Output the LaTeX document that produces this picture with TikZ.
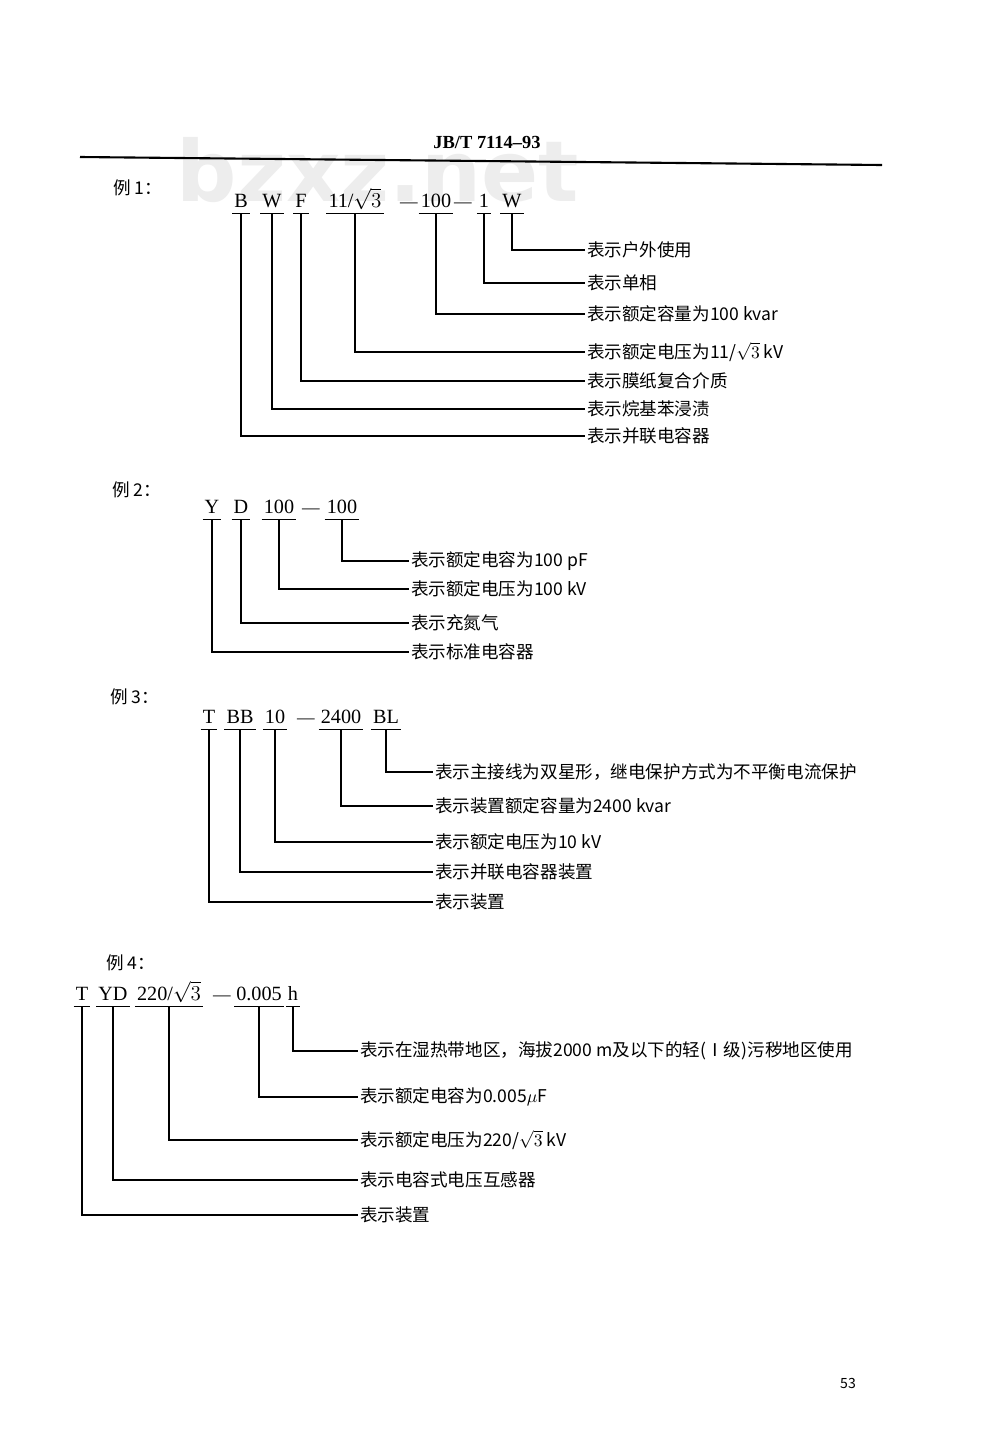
\documentclass[tikz,border=0pt]{standalone}
\usepackage{fontspec}
\setmainfont{Liberation Serif}
\newfontfamily\cjk{Noto Sans CJK SC}
\newfontfamily\wmfont{DejaVu Sans}
\tikzset{
  part/.style={anchor=base,inner xsep=1pt,inner ysep=3.4pt,text depth=0pt,font=\fontsize{11.5}{14}\selectfont},
  gap/.style={anchor=base,inner sep=0pt,font=\fontsize{10}{14}\selectfont},
  lbl/.style={anchor=west,inner sep=1pt,font=\cjk\fontsize{10}{12}\selectfont},
  tag/.style={anchor=west,inner sep=0pt,font=\cjk\fontsize{10}{12}\selectfont},
  lead/.style={line width=0.6pt}
}
\begin{document}
\begin{tikzpicture}[x=0.02cm,y=-0.02cm]
  \useasboundingbox (0,0) rectangle (1000,1434);
  \fill[white] (0,0) rectangle (1000,1434);
  \node[font=\wmfont\fontsize{48}{48}\bfseries,text=black!7] (mark) at (378,170) {bzxz.net};
  \node[font=\bfseries\fontsize{10.5}{12}\selectfont] (head) at (487,142) {JB/T 7114--93};
  \draw[line width=1.2pt] (80,157) -- (882,165);

  \node[tag] (ex1) at (113,188) {例 1：};
  \node[part] (e1b) at (241,207) {B};
  \node[part] (e1w) at (272,207) {W};
  \node[part] (e1f) at (301,207) {F};
  \node[part] (e1u) at (355,207) {11/$\sqrt{3}$};
  \node[gap] (e1d) at (409,207) {---};
  \node[part] (e1c) at (436,207) {100};
  \node[gap] (e1e) at (463,207) {---};
  \node[part] (e1p) at (484,207) {1};
  \node[part] (e1o) at (512,207) {W};
  \node[lbl] (t1o) at (585,250) {表示户外使用};
  \node[lbl] (t1p) at (585,283) {表示单相};
  \node[lbl] (t1c) at (585,314) {表示额定容量为100 kvar};
  \node[lbl] (t1u) at (585,352) {表示额定电压为11/$\sqrt{3}$ kV};
  \node[lbl] (t1f) at (585,381) {表示膜纸复合介质};
  \node[lbl] (t1w) at (585,409) {表示烷基苯浸渍};
  \node[lbl] (t1b) at (585,436) {表示并联电容器};
  \foreach \n in {b,w,f,u,c,p,o} {
    \draw[lead] (e1\n.south west) -- (e1\n.south east);
    \draw[lead] (e1\n.south) |- (t1\n.west);
  }

  \node[tag] (ex2) at (112,490) {例 2：};
  \begin{scope}[every node/.append style={inner ysep=4.5pt}]
    \node[part] (e2y) at (212,513) {Y};
    \node[part] (e2d) at (241,513) {D};
    \node[part] (e2u) at (279,513) {100};
    \node[gap] (e2e) at (311,513) {---};
    \node[part] (e2c) at (342,513) {100};
  \end{scope}
  \node[lbl] (t2c) at (409,561) {表示额定电容为100 pF};
  \node[lbl] (t2u) at (409,589) {表示额定电压为100 kV};
  \node[lbl] (t2d) at (409,623) {表示充氮气};
  \node[lbl] (t2y) at (409,652) {表示标准电容器};
  \foreach \n in {y,d,u,c} {
    \draw[lead] (e2\n.south west) -- (e2\n.south east);
    \draw[lead] (e2\n.south) |- (t2\n.west);
  }

  \node[tag] (ex3) at (110,697) {例 3：};
  \begin{scope}[every node/.append style={inner ysep=4.5pt}]
    \node[part] (e3t) at (209,723) {T};
    \node[part] (e3b) at (240,723) {BB};
    \node[part] (e3u) at (275,723) {10};
    \node[gap] (e3e) at (306,723) {---};
    \node[part] (e3c) at (341,723) {2400};
    \node[part] (e3m) at (386,723) {BL};
  \end{scope}
  \node[lbl] (t3m) at (433,772) {表示主接线为双星形，继电保护方式为不平衡电流保护};
  \node[lbl] (t3c) at (433,806) {表示装置额定容量为2400 kvar};
  \node[lbl] (t3u) at (433,842) {表示额定电压为10 kV};
  \node[lbl] (t3b) at (433,872) {表示并联电容器装置};
  \node[lbl] (t3t) at (433,902) {表示装置};
  \foreach \n in {t,b,u,c,m} {
    \draw[lead] (e3\n.south west) -- (e3\n.south east);
    \draw[lead] (e3\n.south) |- (t3\n.west);
  }

  \node[tag] (ex4) at (106,963) {例 4：};
  \begin{scope}[every node/.append style={inner ysep=8.5pt}]
    \node[part] (e4t) at (82,1000) {T};
    \node[part] (e4y) at (113,1000) {YD};
    \node[part] (e4u) at (169,1000) {220/$\sqrt{3}$};
    \node[gap] (e4e) at (222,1000) {---};
    \node[part] (e4c) at (259,1000) {0.005};
    \node[part] (e4h) at (293,1000) {h};
  \end{scope}
  \node[lbl] (t4h) at (358,1051) {表示在湿热带地区，海拔2000 m及以下的轻(Ⅰ级)污秽地区使用};
  \node[lbl] (t4c) at (358,1097) {表示额定电容为0.005$\mu$F};
  \node[lbl] (t4u) at (358,1140) {表示额定电压为220/$\sqrt{3}$ kV};
  \node[lbl] (t4y) at (358,1180) {表示电容式电压互感器};
  \node[lbl] (t4t) at (358,1215) {表示装置};
  \foreach \n in {t,y,u,c,h} {
    \draw[lead] (e4\n.south west) -- (e4\n.south east);
    \draw[lead] (e4\n.south) |- (t4\n.west);
  }

  \node[font=\cjk\fontsize{8}{10}\selectfont] (page) at (848,1383) {53};
\end{tikzpicture}
\end{document}
